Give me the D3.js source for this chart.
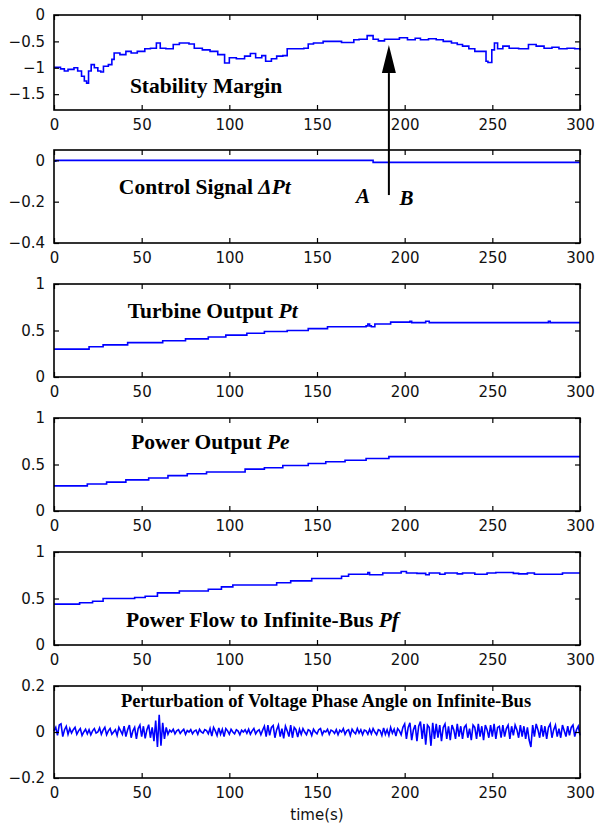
<!DOCTYPE html>
<html>
<head>
<meta charset="utf-8">
<script src="https://cdn.jsdelivr.net/npm/d3@7"></script>
<style>
body { margin: 0; background: #fff; }
.tick text { font-family: "DejaVu Sans", sans-serif; }
</style>
</head>
<body>
<script>
var width = 600, height = 829

// time axis shared by all panels
var timeDomain = [0, 300]
var timeTicks = [0, 50, 100, 150, 200, 250, 300]

// stability margin
var marginT = [0, 3.7, 5.9, 8, 11.4, 13.5, 15.7, 17.3, 18.6, 19.7, 21.2, 23, 25, 26.7, 28.2, 31, 33, 34.3, 37.6, 41, 44, 47.5, 51.8, 55, 58.4, 60.6, 63.8, 68, 71.5, 77, 80, 84.6, 89, 93.4, 97.3, 100, 104, 108.7, 112, 115, 118.5, 120.7, 124, 127, 130.5, 133, 138, 142.5, 145, 148, 153.5, 159, 164, 169, 171, 174, 178.6, 182, 185, 188.5, 194, 197, 201.6, 206, 209, 213.6, 218, 222, 226.7, 230, 233, 236.6, 240, 244.7, 246.4, 247.5, 249.7, 251.2, 253, 256, 259.6, 265, 270.6, 275, 279.5, 284, 288, 292.6, 297, 300]
var marginV = [-0.99, -1.02, -1.06, -1.03, -1.0, -1.06, -1.16, -1.25, -1.29, -1.06, -0.94, -1.0, -1.06, -1.08, -0.97, -0.94, -0.84, -0.72, -0.75, -0.69, -0.72, -0.69, -0.64, -0.63, -0.53, -0.63, -0.64, -0.56, -0.53, -0.55, -0.63, -0.66, -0.69, -0.75, -0.91, -0.81, -0.83, -0.78, -0.73, -0.81, -0.77, -0.875, -0.83, -0.78, -0.77, -0.64, -0.64, -0.63, -0.55, -0.53, -0.5, -0.5, -0.52, -0.52, -0.47, -0.46, -0.39, -0.46, -0.49, -0.46, -0.46, -0.43, -0.47, -0.44, -0.47, -0.45, -0.47, -0.5, -0.53, -0.56, -0.59, -0.64, -0.69, -0.69, -0.875, -0.9, -0.66, -0.53, -0.64, -0.59, -0.63, -0.64, -0.56, -0.59, -0.63, -0.61, -0.64, -0.63, -0.64, -0.67]

// control signal dPt
var controlT = [0, 1, 180, 182, 300]
var controlV = [-0.004, 0, 0, -0.01, -0.01]

// turbine output Pt (steps)
var turbineT = [0, 20, 28, 42, 62, 75, 88, 98, 110, 120, 133, 145, 156, 178, 179, 180, 181, 183, 192, 203, 204, 212, 214, 282, 283, 300]
var turbineV = [0.30, 0.325, 0.345, 0.37, 0.39, 0.41, 0.43, 0.45, 0.47, 0.49, 0.50, 0.52, 0.54, 0.55, 0.57, 0.55, 0.54, 0.57, 0.59, 0.60, 0.585, 0.60, 0.585, 0.60, 0.585, 0.585]

// power output Pe (steps)
var powerT = [0, 19, 30, 41, 54, 65, 76, 87, 109, 120, 130.5, 145, 155, 166, 178, 191, 300]
var powerV = [0.27, 0.29, 0.31, 0.335, 0.355, 0.38, 0.40, 0.42, 0.45, 0.465, 0.49, 0.51, 0.53, 0.545, 0.565, 0.585, 0.585]

// power flow to infinite bus Pf (steps)
var flowT = [0, 14.6, 22, 28, 46, 52, 59, 71.5, 88, 95.5, 102, 127, 135, 147, 164, 168, 179, 180, 187.5, 198, 201, 207, 212, 214, 220, 223, 230, 233, 240, 247, 252, 262, 265, 270, 274, 290, 300]
var flowV = [0.44, 0.455, 0.47, 0.50, 0.51, 0.525, 0.56, 0.58, 0.60, 0.625, 0.645, 0.67, 0.69, 0.715, 0.74, 0.76, 0.78, 0.755, 0.775, 0.79, 0.775, 0.77, 0.755, 0.775, 0.76, 0.775, 0.765, 0.775, 0.76, 0.775, 0.78, 0.77, 0.765, 0.775, 0.76, 0.775, 0.775]

// perturbation of voltage phase angle, one reading per second
var angleT = d3.range(0, 301, 1)
var angleV = [
  0.005, 0.02, -0.015, 0.03, 0.035, -0.02, 0.01, 0.025, -0.01, 0.015,
  -0.005, 0.01, 0.02, -0.01, 0.005, 0.015, -0.015, 0.0, 0.012, -0.008,
  0.01, -0.012, 0.005, 0.015, -0.005, 0.0, 0.018, -0.01, 0.008, 0.02,
  -0.012, 0.005, 0.015, -0.01, 0.0, 0.01, -0.015, 0.02, 0.005, -0.01,
  0.025, -0.02, 0.01, 0.03, -0.025, 0.005, 0.02, -0.03, 0.015, 0.03,
  -0.02, 0.025, -0.028, 0.01, 0.032, -0.025, 0.02, -0.04, 0.05, -0.065,
  0.075, -0.06, 0.04, -0.03, 0.02, -0.01, 0.008, 0.0, 0.012, -0.008,
  0.005, 0.01, -0.006, 0.004, 0.012, -0.01, 0.006, 0.0, 0.01, -0.008,
  0.004, 0.008, -0.01, 0.012, 0.0, -0.005, 0.01, 0.006, -0.008, 0.015,
  -0.018, 0.02, 0.005, -0.015, 0.018, -0.01, 0.012, -0.02, 0.015, 0.005,
  -0.01, 0.012, 0.0, -0.008, 0.01, 0.004, -0.012, 0.008, 0.0, 0.01,
  -0.006, 0.012, -0.01, 0.005, 0.015, -0.008, 0.004, 0.01, -0.012, 0.008,
  0.025, -0.02, 0.03, -0.015, 0.02, 0.028, -0.025, 0.01, 0.03, -0.02,
  0.015, -0.028, 0.025, 0.005, -0.02, 0.03, -0.025, 0.02, 0.01, -0.022,
  0.012, -0.01, 0.015, 0.0, -0.012, 0.01, 0.005, -0.015, 0.012, 0.0,
  -0.008, 0.01, 0.015, -0.012, 0.005, 0.0, 0.012, -0.01, 0.008, 0.004,
  -0.006, 0.01, -0.012, 0.008, 0.0, 0.015, -0.01, 0.005, 0.01, -0.015,
  0.012, 0.0, -0.008, 0.015, -0.005, 0.01, -0.012, 0.008, 0.005, -0.01,
  0.012, -0.008, 0.015, 0.0, -0.012, 0.01, 0.006, -0.015, 0.018, -0.01,
  0.01, -0.015, 0.02, -0.005, 0.012, -0.018, 0.015, 0.005, -0.012, 0.02,
  0.035, -0.03, 0.02, 0.04, -0.035, 0.01, 0.03, -0.04, 0.025, 0.045,
  -0.03, 0.035, -0.055, 0.03, 0.02, -0.06, 0.04, -0.03, 0.035, -0.025,
  0.03, -0.04, 0.02, 0.035, -0.03, 0.025, -0.035, 0.03, 0.01, -0.03,
  0.035, -0.02, 0.025, -0.03, 0.02, 0.03, -0.025, 0.015, -0.035, 0.03,
  0.02, -0.03, 0.035, -0.02, 0.025, -0.035, 0.03, 0.01, -0.025, 0.03,
  -0.02, 0.035, -0.03, 0.02, 0.025, -0.025, 0.03, -0.02, 0.015, 0.03,
  -0.03, 0.025, -0.015, 0.03, 0.01, -0.025, 0.03, -0.02, 0.025, -0.03,
  0.02, -0.035, -0.065, 0.03, -0.02, 0.035, 0.01, -0.025, 0.03, -0.02,
  0.025, -0.03, 0.02, 0.035, -0.025, 0.01, 0.03, -0.02, 0.015, -0.025,
  0.03, 0.005, -0.02, 0.025, -0.015, 0.02, 0.03, -0.02, 0.01, 0.025,
  -0.015]

var panels = [
  {t: marginT, v: marginV, domain: [-1.8, 0], ticks: [-1.5, -1, -0.5, 0], top: 15, h: 95, curve: d3.curveStepAfter},
  {t: controlT, v: controlV, domain: [-0.4, 0.05], ticks: [-0.4, -0.2, 0], top: 150, h: 93, curve: d3.curveStepAfter},
  {t: turbineT, v: turbineV, domain: [0, 1], ticks: [0, 0.5, 1], top: 284, h: 93, curve: d3.curveStepAfter},
  {t: powerT, v: powerV, domain: [0, 1], ticks: [0, 0.5, 1], top: 418, h: 93, curve: d3.curveStepAfter},
  {t: flowT, v: flowV, domain: [0, 1], ticks: [0, 0.5, 1], top: 552, h: 93, curve: d3.curveStepAfter},
  {t: angleT, v: angleV, domain: [-0.2, 0.2], ticks: [-0.2, 0, 0.2], top: 686, h: 92, curve: d3.curveLinear}
]

var left = 54, right = 580

var x = d3.scaleLinear().domain(timeDomain).range([left, right])
var fmt = d3.format("~g")

var svg = d3.select("body")
.append("svg")
.attr("width", width)
.attr("height", height)

panels.forEach(function(p) {
  p.y = d3.scaleLinear().domain(p.domain).range([p.top + p.h, p.top])
  var g = svg.append("g")

  // data line
  var line = d3.line()
    .x(function(d) { return x(d[0]) })
    .y(function(d) { return p.y(d[1]) })
    .curve(p.curve)
  g.append("path")
    .datum(d3.zip(p.t, p.v))
    .attr("d", line)
    .attr("fill", "none")
    .attr("stroke", "#0000ff")
    .attr("stroke-width", 1.6)

  // matlab style box with inward ticks on every side
  var tl = -5
  g.append("g").attr("transform", "translate(0," + (p.top + p.h) + ")")
    .call(d3.axisBottom(x).tickValues(timeTicks).tickFormat(fmt).tickSizeInner(tl).tickSizeOuter(0).tickPadding(9))
  g.append("g").attr("transform", "translate(0," + p.top + ")")
    .call(d3.axisTop(x).tickValues(timeTicks).tickSizeInner(tl).tickSizeOuter(0).tickFormat(""))
  g.append("g").attr("transform", "translate(" + left + ",0)")
    .call(d3.axisLeft(p.y).tickValues(p.ticks).tickFormat(fmt).tickSizeInner(tl).tickSizeOuter(0).tickPadding(9))
  g.append("g").attr("transform", "translate(" + right + ",0)")
    .call(d3.axisRight(p.y).tickValues(p.ticks).tickSizeInner(tl).tickSizeOuter(0).tickFormat(""))
  g.selectAll(".domain").remove()
  g.selectAll(".tick line").attr("stroke", "#000").attr("stroke-width", 1.2)
  g.selectAll(".tick text").attr("font-size", 15).attr("fill", "#111")

  g.append("rect")
    .attr("x", left)
    .attr("y", p.top)
    .attr("width", right - left)
    .attr("height", p.h)
    .attr("fill", "none")
    .attr("stroke", "#000")
    .attr("stroke-width", 1.6)
})

// panel captions
var captions = [
  {i: 0, t: 43.3, v: -1.48, parts: [["Stability Margin", false]]},
  {i: 1, t: 37, v: -0.165, parts: [["Control Signal ", false], ["\u0394Pt", true]]},
  {i: 2, t: 42, v: 0.63, parts: [["Turbine Output ", false], ["Pt", true]]},
  {i: 3, t: 44, v: 0.67, parts: [["Power Output ", false], ["Pe", true]]},
  {i: 4, t: 41, v: 0.19, parts: [["Power Flow to Infinite-Bus ", false], ["Pf", true]]},
  {i: 5, t: 38.2, v: 0.11, parts: [["Perturbation of Voltage Phase Angle on Infinite-Bus", false]], size: 18.5}
]

captions.forEach(function(c) {
  var p = panels[c.i]
  var txt = svg.append("text")
    .attr("x", x(c.t))
    .attr("y", p.y(c.v))
    .attr("font-family", "'Liberation Serif', 'Times New Roman', serif")
    .attr("font-weight", "bold")
    .attr("font-size", c.size || 21.5)
    .attr("fill", "#000")
  c.parts.forEach(function(part) {
    txt.append("tspan")
      .attr("font-style", part[1] ? "italic" : "normal")
      .text(part[0])
  })
})

// arrow marking the switch from A to B
var arrowT = 191
var ax = x(arrowT)
var tipY = panels[0].y(-0.57)
var baseY = panels[0].y(-1.1)
var footY = panels[1].y(-0.168)
svg.append("line")
  .attr("x1", ax).attr("x2", ax)
  .attr("y1", footY).attr("y2", baseY)
  .attr("stroke", "#000")
  .attr("stroke-width", 2)
svg.append("path")
  .attr("d", "M" + ax + "," + tipY + "L" + (ax - 7) + "," + baseY + "L" + (ax + 7) + "," + baseY + "Z")
  .attr("fill", "#000")

var abLabels = [["A", 172.2, -0.205], ["B", 197, -0.215]]
svg.selectAll(".ab")
  .data(abLabels)
  .enter()
  .append("text")
  .attr("class", "ab")
  .attr("x", function(d) { return x(d[1]) })
  .attr("y", function(d) { return panels[1].y(d[2]) })
  .attr("font-family", "'Liberation Serif', 'Times New Roman', serif")
  .attr("font-weight", "bold")
  .attr("font-style", "italic")
  .attr("font-size", 21)
  .text(function(d) { return d[0] })

svg.append("text")
  .attr("x", x(150))
  .attr("y", 820)
  .attr("text-anchor", "middle")
  .attr("font-family", "'DejaVu Sans', sans-serif")
  .attr("font-size", 15)
  .attr("fill", "#111")
  .text("time(s)")
</script>
</body>
</html>
